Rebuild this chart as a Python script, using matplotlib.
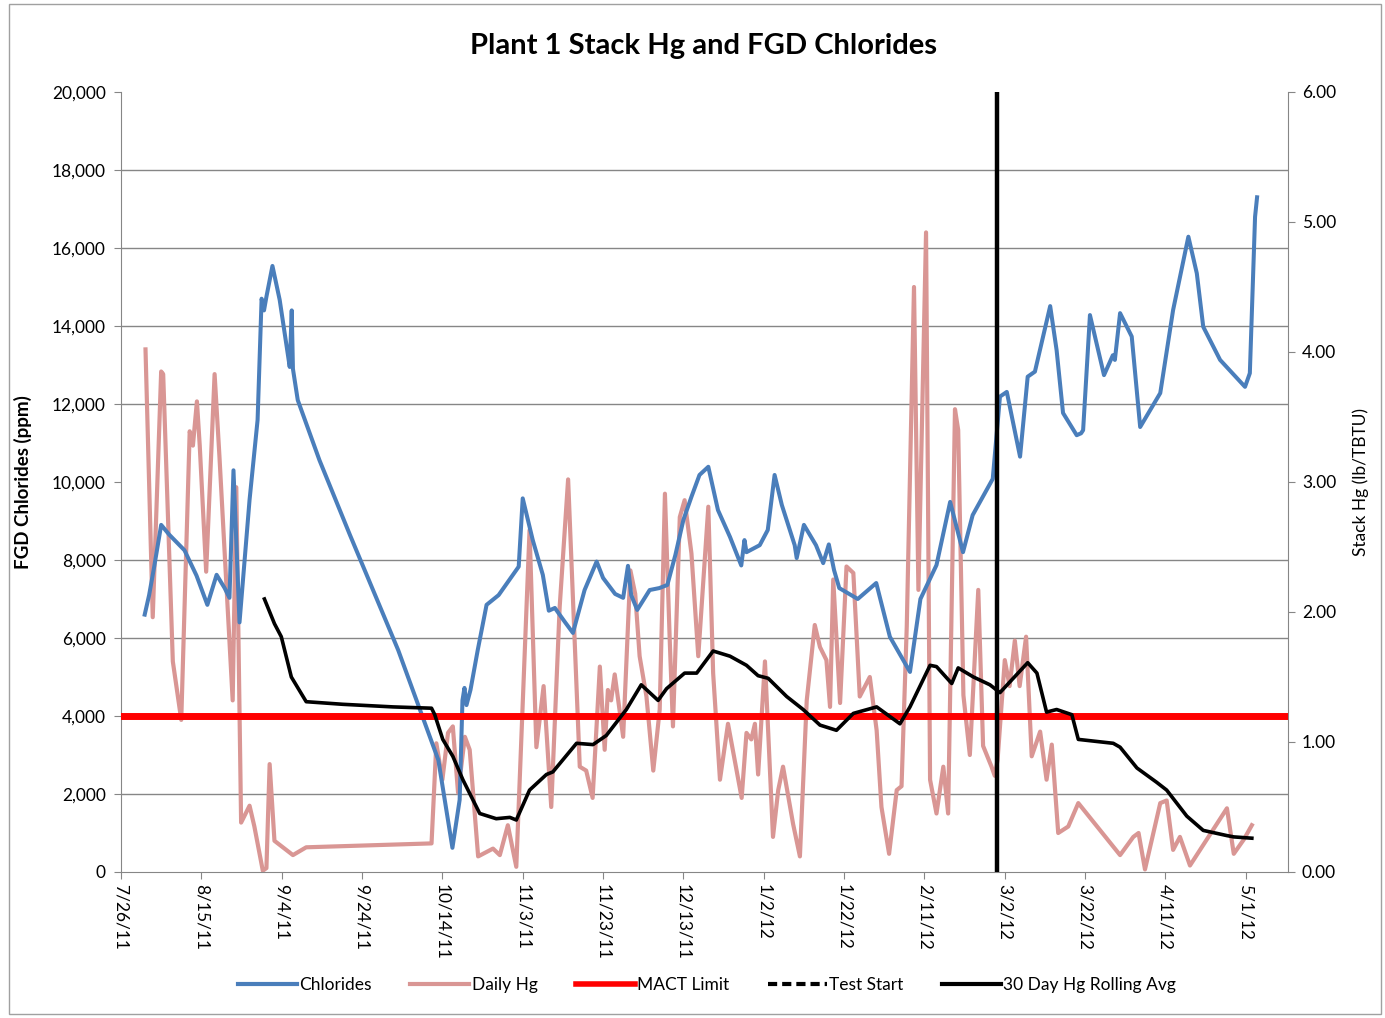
import matplotlib.pyplot as plt
from matplotlib.lines import Line2D
from matplotlib.patches import Rectangle
import matplotlib.ticker as mticker
import numpy as np
import pandas as pd

plt.rcParams['font.family'] = ['Lato', 'DejaVu Sans']

start = pd.Timestamp('2011-07-26')

# FGD chlorides (ppm), x = days after 7/26/11
cl_day = [5.9, 7, 8.3, 10, 12, 15.8, 18.8, 21.5, 23.8, 25.8, 27, 28, 29.5, 32, 34, 35, 35.6, 36.2,
          37.7, 39.5, 41.2, 42, 42.5, 42.8, 44, 49.4, 57, 69, 79, 82.5, 84.3, 85, 85.5, 86, 87,
          88.8, 91, 94, 99, 100, 102.5, 105, 106.5, 108, 110.5, 112.5, 115.4, 118.4, 120, 123,
          125, 126.2, 127, 128.5, 131.6, 134, 136, 138, 140, 142, 144, 146.2, 148.6, 151.6,
          154.4, 155.2, 155.7, 159, 161, 162.7, 164.5, 167.7, 168.2, 170, 173, 174.8, 176.2,
          177.5, 178.8, 183.4, 188, 191.4, 196.4, 199, 203, 206.4, 209.6, 212, 217, 218.8,
          220.5, 223.8, 225.7, 227.5, 231.3, 232.9, 234.5, 237.9, 239, 239.5, 241.2, 244.7,
          246.9, 247.4, 248.7, 251.6, 253.7, 258.7, 261.9, 265.7, 267.8, 269.4, 273.6, 279.8,
          281, 282.3, 282.8]
cl_ppm = [6600, 7100, 7850, 8900, 8650, 8250, 7600, 6850, 7620, 7280, 7030, 10300, 6400, 9540,
          11590, 14700, 14400, 14750, 15540, 14670, 13500, 12950, 14400, 12900, 12100, 10560,
          8640, 5690, 2870, 620, 1850, 4400, 4720, 4280, 4670, 5690, 6850, 7100, 7830, 9580,
          8510, 7620, 6700, 6770, 6410, 6130, 7230, 7960, 7540, 7130, 7030, 7850, 7100, 6720,
          7230, 7280, 7360, 8130, 9030, 9620, 10180, 10390, 9280, 8590, 7860, 8510, 8200, 8380,
          8770, 10180, 9410, 8380, 8050, 8900, 8380, 7920, 8400, 7740, 7280, 7000, 7410, 6030,
          5130, 7000, 7870, 9490, 8200, 9150, 10080, 12190, 12310, 10650, 12700, 12830, 14510,
          13380, 11770, 11200, 11250, 11330, 14280, 12740, 13250, 13130, 14330, 13730, 11410,
          12280, 14410, 16290, 15350, 13980, 13130, 12440, 12790, 16800, 17300]

# daily stack Hg (lb/TBTU)
hg_day = [6.1, 7.9, 10, 10.5, 12.9, 15, 17.1, 17.9, 18.9, 19.6, 21.2, 23.3, 24.5, 27.8, 28.7,
          29.9, 32, 33.2, 35.3, 36.2, 37, 38.2, 42.8, 46.1, 77.3, 78.5, 80, 81.4, 82.6, 83.9,
          85.6, 86.8, 88.9, 92.6, 94.3, 96.3, 98.4, 100.1, 101.7, 103.4, 105.2, 107.1, 109.2,
          111.3, 114.2, 115.8, 117.4, 119.2, 120.4, 121.2, 122, 122.9, 125, 126.8, 128, 129.1,
          130.8, 132.5, 134.1, 135.4, 136.6, 137.4, 139.1, 140.3, 142, 143.7, 146.2, 147.4,
          149.1, 151.1, 154.5, 155.7, 156.9, 157.8, 158.6, 160.3, 162.3, 163.6, 164.8, 167.3,
          169, 170.7, 172.7, 174, 175.6, 176.5, 177.3, 179, 180.6, 182.3, 183.9, 186.4, 188.1,
          189.3, 191.2, 193.1, 194.3, 195.6, 197.4, 198.5, 200.4, 201.4, 203, 204.7, 205.9,
          207.6, 208.4, 209.7, 211.3, 213.4, 214.6, 216.7, 217.5, 218.2, 220, 221.2, 222.5,
          223.7, 225.3, 226.7, 228.8, 230.4, 231.7, 233.3, 235.8, 238.3, 248.7, 252, 253.3,
          254.9, 258.7, 260.3, 261.9, 263.6, 266.1, 275.3, 277, 279.5, 281.5]
hg_val = [4.02, 1.96, 3.85, 3.83, 1.62, 1.17, 3.39, 3.28, 3.62, 3.28, 2.31, 3.83, 3.20, 1.32, 2.96,
          0.38, 0.51, 0.35, 0.01, 0.03, 0.83, 0.24, 0.13, 0.19, 0.22, 0.99, 0.71, 1.07, 1.12, 0.61,
          1.04, 0.94, 0.12, 0.18, 0.13, 0.36, 0.04, 1.37, 2.63, 0.96, 1.43, 0.50, 2.04, 3.02, 0.81,
          0.78, 0.57, 1.58, 0.94, 1.40, 1.32, 1.52, 1.04, 2.32, 2.14, 1.66, 1.35, 0.78, 1.25, 2.91,
          1.78, 1.12, 2.73, 2.86, 2.45, 1.66, 2.81, 1.53, 0.71, 1.14, 0.57, 1.07, 1.02, 1.14, 0.75,
          1.62, 0.27, 0.63, 0.81, 0.37, 0.12, 1.32, 1.90, 1.73, 1.63, 1.27, 2.25, 1.30, 2.35, 2.30,
          1.35, 1.50, 1.09, 0.50, 0.14, 0.63, 0.66, 1.89, 4.50, 2.17, 4.92, 0.71, 0.45, 0.81, 0.45,
          3.56, 3.40, 1.36, 0.90, 2.17, 0.97, 0.81, 0.74, 0.86, 1.63, 1.43, 1.78, 1.43, 1.81, 0.89,
          1.08, 0.71, 0.98, 0.30, 0.35, 0.53, 0.13, 0.27, 0.30, 0.02, 0.53, 0.55, 0.17, 0.27, 0.05,
          0.49, 0.14, 0.25, 0.36]

# 30 day Hg rolling average (lb/TBTU)
avg_day = [35.7, 38.2, 39.9, 42.4, 46.1, 55.2, 67.7, 77.3, 78.1, 80.1, 82.6, 85.1, 89.3, 93.4,
           96.8, 98.4, 101.7, 105.9, 107.5, 113.4, 117.5, 120.8, 125.8, 129.5, 133.7, 135.8,
           140.3, 143.3, 147.4, 151.6, 155.7, 158.6, 161.1, 165.7, 169.8, 174, 178.1, 182.3,
           188.1, 193.9, 196.4, 201.4, 203, 206.8, 208.4, 212.2, 216.3, 218.8, 225.7, 228,
           230.4, 232.9, 236.7, 238.3, 247, 248.7, 252.9, 257.8, 260.3, 265.3, 269.4, 275.3,
           277, 281.5]
avg_val = [2.10, 1.91, 1.81, 1.50, 1.31, 1.29, 1.27, 1.26, 1.21, 1.02, 0.89, 0.71, 0.45, 0.41,
           0.42, 0.40, 0.63, 0.75, 0.77, 0.99, 0.98, 1.05, 1.25, 1.44, 1.32, 1.41, 1.53, 1.53,
           1.70, 1.66, 1.59, 1.51, 1.49, 1.35, 1.25, 1.13, 1.09, 1.22, 1.27, 1.14, 1.27, 1.59,
           1.58, 1.45, 1.57, 1.50, 1.44, 1.38, 1.61, 1.53, 1.23, 1.25, 1.21, 1.02, 0.99, 0.96,
           0.80, 0.69, 0.63, 0.43, 0.32, 0.28, 0.27, 0.26]

mact_limit = 1.2
test_start = pd.Timestamp('2012-02-29')
tick_dates = pd.date_range(start, periods=15, freq='20D')
tick_labels = [f"{d.month}/{d.day}/{d.year % 100}" for d in tick_dates]

blue = '#4A7EBB'
pink = '#D99694'
grid = '#868686'

cl_dates = start + pd.to_timedelta(cl_day, unit='D')
hg_dates = start + pd.to_timedelta(hg_day, unit='D')
avg_dates = start + pd.to_timedelta(avg_day, unit='D')

fig = plt.figure(figsize=(13.85, 10.18), dpi=100)
W, H = 1385, 1018
ax = fig.add_axes([121 / W, 1 - 872 / H, (1288 - 121) / W, (872 - 92) / H])
axh = ax.twinx()
axt = ax.twinx()
axh.set_zorder(0)
ax.set_zorder(1)
axt.set_zorder(2)
ax.patch.set_visible(False)
axh.patch.set_visible(False)
axt.patch.set_visible(False)

# daily Hg behind
axh.plot(hg_dates, hg_val, color=pink, lw=3.0, solid_joinstyle='round')
# chlorides
ax.plot(cl_dates, cl_ppm, color=blue, lw=2.9, solid_joinstyle='round')
# limit, test start, rolling avg on top
axt.axhline(mact_limit, color='#FF0000', lw=5)
axt.plot([test_start, test_start], [0, 6], color='black', lw=3.2)
axt.plot(avg_dates, avg_val, color='black', lw=2.6, solid_joinstyle='round')

xmin, xmax = start, start + pd.Timedelta(days=290.5)
for a in (ax, axh, axt):
    a.set_xlim(xmin, xmax)
ax.set_ylim(0, 20000)
axh.set_ylim(0, 6)
axt.set_ylim(0, 6)

ax.set_yticks(np.arange(0, 20001, 2000))
ax.yaxis.set_major_formatter(mticker.FuncFormatter(lambda v, p: f"{v:,.0f}"))
axh.set_yticks(np.arange(0, 6.01, 1))
axh.yaxis.set_major_formatter(mticker.FormatStrFormatter('%.2f'))
axh.set_yticks(np.arange(0, 6.01, 0.6), minor=True)
axh.grid(which='minor', axis='y', color=grid, lw=1)
axh.tick_params(which='minor', length=0)

ax.set_xticks(tick_dates)
ax.set_xticklabels(tick_labels, rotation=270, ha='center', va='top')

ax.tick_params(axis='both', direction='out', length=5, color=grid, labelsize=12.5, pad=4)
ax.tick_params(axis='y', pad=6)
axh.tick_params(axis='y', which='major', direction='out', length=5, color=grid, labelsize=12.5, pad=5)
axt.yaxis.set_visible(False)

for s in ('top', 'right'):
    ax.spines[s].set_visible(False)
for s in ('top', 'left', 'bottom'):
    axh.spines[s].set_visible(False)
for s in axt.spines.values():
    s.set_visible(False)
ax.spines['left'].set_color(grid)
ax.spines['bottom'].set_color(grid)
axh.spines['right'].set_color(grid)

ax.set_ylabel('FGD Chlorides (ppm)', fontsize=13.5, fontweight='bold', labelpad=14)
axh.set_ylabel('Stack Hg (lb/TBTU)', fontsize=12.5, labelpad=12)

fig.text(704 / W, 1 - 46 / H, 'Plant 1 Stack Hg and FGD Chlorides', ha='center', va='center',
         fontsize=21, fontweight='bold')

handles = [Line2D([], [], color=blue, lw=3),
           Line2D([], [], color=pink, lw=3),
           Line2D([], [], color='#FF0000', lw=4),
           Line2D([], [], color='black', lw=3, ls=(0, (2.2, 1.2))),
           Line2D([], [], color='black', lw=3)]
labels = ['Chlorides', 'Daily Hg', 'MACT Limit', 'Test Start', '30 Day Hg Rolling Avg']
fig.legend(handles, labels, loc='center', bbox_to_anchor=(707 / W, 1 - 985 / H), ncol=5,
           frameon=False, fontsize=12.5, handlelength=3.4, handletextpad=0.15, columnspacing=2.2)

fig.patches.append(Rectangle((9 / W, 4 / H), 1372 / W, 1010 / H, transform=fig.transFigure,
                             fill=False, edgecolor='#A0A0A0', lw=1))

fig.savefig('out.png', dpi=100)
